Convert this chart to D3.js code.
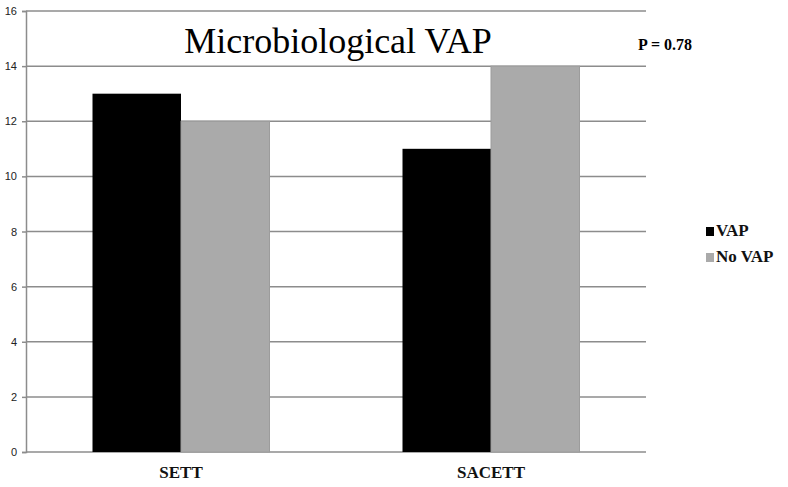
<!DOCTYPE html>
<html>
<head>
<meta charset="utf-8">
<script src="https://cdn.jsdelivr.net/npm/d3@7"></script>
<style>
  body { margin: 0; background: #fff; }
  svg { display: block; }
</style>
</head>
<body>
<svg id="chart" width="788" height="487"></svg>
<script>
const categories = ['SETT', 'SACETT'];
const seriesNames = ['VAP', 'No VAP'];
const vapValues = [13, 11];
const noVapValues = [12, 14];
const yTicks = [0, 2, 4, 6, 8, 10, 12, 14, 16];
const colors = ['#000000', '#aaaaaa'];

const SERIF = '"Liberation Serif"';
const SANS = '"Liberation Sans"';

const svg = d3.select('#chart');
const plotLeft = 26, plotRight = 646, plotTop = 11, plotBottom = 452;

const x = d3.scaleBand().domain(categories).range([plotLeft, plotRight]);
const y = d3.scaleLinear().domain([0, 16]).range([plotBottom, plotTop]);

// grid
svg.append('g')
  .selectAll('line')
  .data(yTicks)
  .enter()
  .append('line')
  .attr('x1', plotLeft).attr('x2', plotRight)
  .attr('y1', d => y(d)).attr('y2', d => y(d))
  .attr('stroke', '#8c8c8c')
  .attr('stroke-width', 1.5);

// y axis
const yAxis = svg.append('g')
  .attr('transform', 'translate(' + plotLeft + ',0)')
  .call(d3.axisLeft(y).tickValues(yTicks).tickSize(4).tickPadding(5));
yAxis.select('.domain').attr('stroke', '#8c8c8c').attr('stroke-width', 1.5);
yAxis.selectAll('.tick line').attr('stroke', '#8c8c8c').attr('stroke-width', 1.5);
yAxis.selectAll('.tick text')
  .style('font-family', SANS)
  .style('font-size', '11px')
  .attr('fill', '#222');

// bars
const barW = 88.5;
const groups = categories.map((c, i) => ({ c, vals: [vapValues[i], noVapValues[i]] }));
const g = svg.append('g');
groups.forEach(gr => {
  const cx = x(gr.c) + x.bandwidth() / 2;
  g.selectAll(null)
    .data(gr.vals)
    .enter()
    .append('rect')
    .attr('x', (d, j) => cx + (j - 1) * barW)
    .attr('y', d => y(d))
    .attr('width', barW)
    .attr('height', d => y(0) - y(d))
    .attr('fill', (d, j) => colors[j])
    .attr('stroke', (d, j) => j === 1 ? '#9c9c9c' : 'none')
    .attr('stroke-width', 1);
});

// category labels
svg.append('g')
  .selectAll('text')
  .data(categories)
  .enter()
  .append('text')
  .attr('x', d => x(d) + x.bandwidth() / 2)
  .attr('y', 478)
  .attr('text-anchor', 'middle')
  .style('font-family', SERIF)
  .style('font-weight', 'bold')
  .style('font-size', '17px')
  .attr('fill', '#111')
  .text(d => d);

// title
svg.append('text')
  .attr('x', 338)
  .attr('y', 53)
  .attr('text-anchor', 'middle')
  .style('font-family', SERIF)
  .style('font-size', '36px')
  .attr('fill', '#000')
  .text('Microbiological VAP');

svg.append('text')
  .attr('x', 638)
  .attr('y', 50)
  .style('font-family', SERIF)
  .style('font-weight', 'bold')
  .style('font-size', '16px')
  .attr('fill', '#000')
  .text('P = 0.78');

// legend
const legend = svg.append('g')
  .selectAll('g')
  .data(seriesNames)
  .enter()
  .append('g')
  .attr('transform', (d, i) => 'translate(706,' + (236 + i * 26) + ')');
legend.append('rect')
  .attr('width', 8).attr('height', 9)
  .attr('y', -9)
  .attr('fill', (d, i) => colors[i]);
legend.append('text')
  .attr('x', 10)
  .attr('y', 0)
  .style('font-family', SERIF)
  .style('font-weight', 'bold')
  .style('font-size', '17px')
  .attr('fill', '#111')
  .text(d => d);
</script>
</body>
</html>
